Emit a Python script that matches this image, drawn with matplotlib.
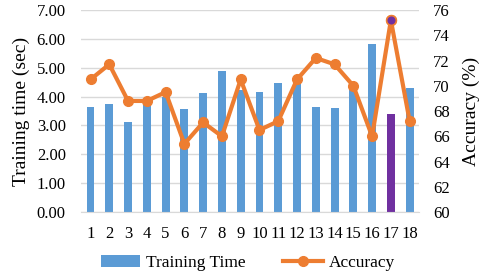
import matplotlib.pyplot as plt
import numpy as np

plt.rcParams['font.family'] = ['Liberation Serif', 'DejaVu Serif']

runs = [str(i) for i in range(1, 19)]
train_time = [3.65, 3.73, 3.12, 3.78, 4.00, 3.56, 4.13, 4.89, 4.23,
              4.15, 4.47, 4.61, 3.65, 3.61, 4.25, 5.81, 3.39, 4.31]
accuracy = [70.5, 71.7, 68.8, 68.8, 69.5, 65.4, 67.1, 66.0, 70.5,
            66.5, 67.2, 70.5, 72.2, 71.7, 70.0, 66.0, 75.2, 67.2]
best = 16

blue = '#5B9BD5'
orange = '#ED7D31'
purple = '#7030A0'

x = np.arange(len(runs))
fig = plt.figure(figsize=(4.8, 2.78), dpi=100)
ax = fig.add_axes([0.169, 0.237, 0.704, 0.727])
colors = [purple if i == best else blue for i in x]
ax.bar(x, train_time, width=0.42, color=colors, zorder=2, label='Training Time')
ax.set_ylim(0, 7)
ax.set_yticks(np.arange(0, 7.5, 1))
ax.set_yticklabels(['%.2f' % v for v in np.arange(0, 7.5, 1)])
ax.set_xlim(-0.5, len(runs) - 0.5)
ax.set_xticks(x)
ax.set_xticklabels(runs)
ax.grid(axis='y', color='#D9D9D9', linewidth=1, zorder=0)
for s in ['top', 'right', 'left']:
    ax.spines[s].set_visible(False)
ax.spines['bottom'].set_color('#D9D9D9')
ax.tick_params(axis='y', length=0, labelsize=12, pad=11)
ax.tick_params(axis='x', length=0, labelsize=12, pad=10)
ax.set_ylabel('Training time (sec)', fontsize=14)
ax.yaxis.set_label_coords(-0.15, 0.5)

ax2 = ax.twinx()
ax2.plot(x, accuracy, color=orange, linewidth=3, marker='o', markersize=7,
         zorder=3, label='Accuracy')
ax2.plot(x[best], accuracy[best], 'o', color=purple, markeredgecolor=orange,
         markeredgewidth=1.2, markersize=7, zorder=4)
ax2.set_ylim(60, 76)
ax2.set_yticks(np.arange(60, 77, 2))
for s in ax2.spines.values():
    s.set_visible(False)
ax2.tick_params(length=0, labelsize=12, pad=10)
ax2.set_ylabel('Accuracy (%)', fontsize=14)
ax2.yaxis.set_label_coords(1.13, 0.5)

h1, l1 = ax.get_legend_handles_labels()
h2, l2 = ax2.get_legend_handles_labels()
fig.legend(h1 + h2, l1 + l2, loc='center', ncol=2, frameon=False,
           fontsize=12.5, bbox_to_anchor=(0.516, 0.054), handlelength=2.3,
           columnspacing=2.2, handletextpad=0.3)

plt.savefig('out.png', dpi=100)
